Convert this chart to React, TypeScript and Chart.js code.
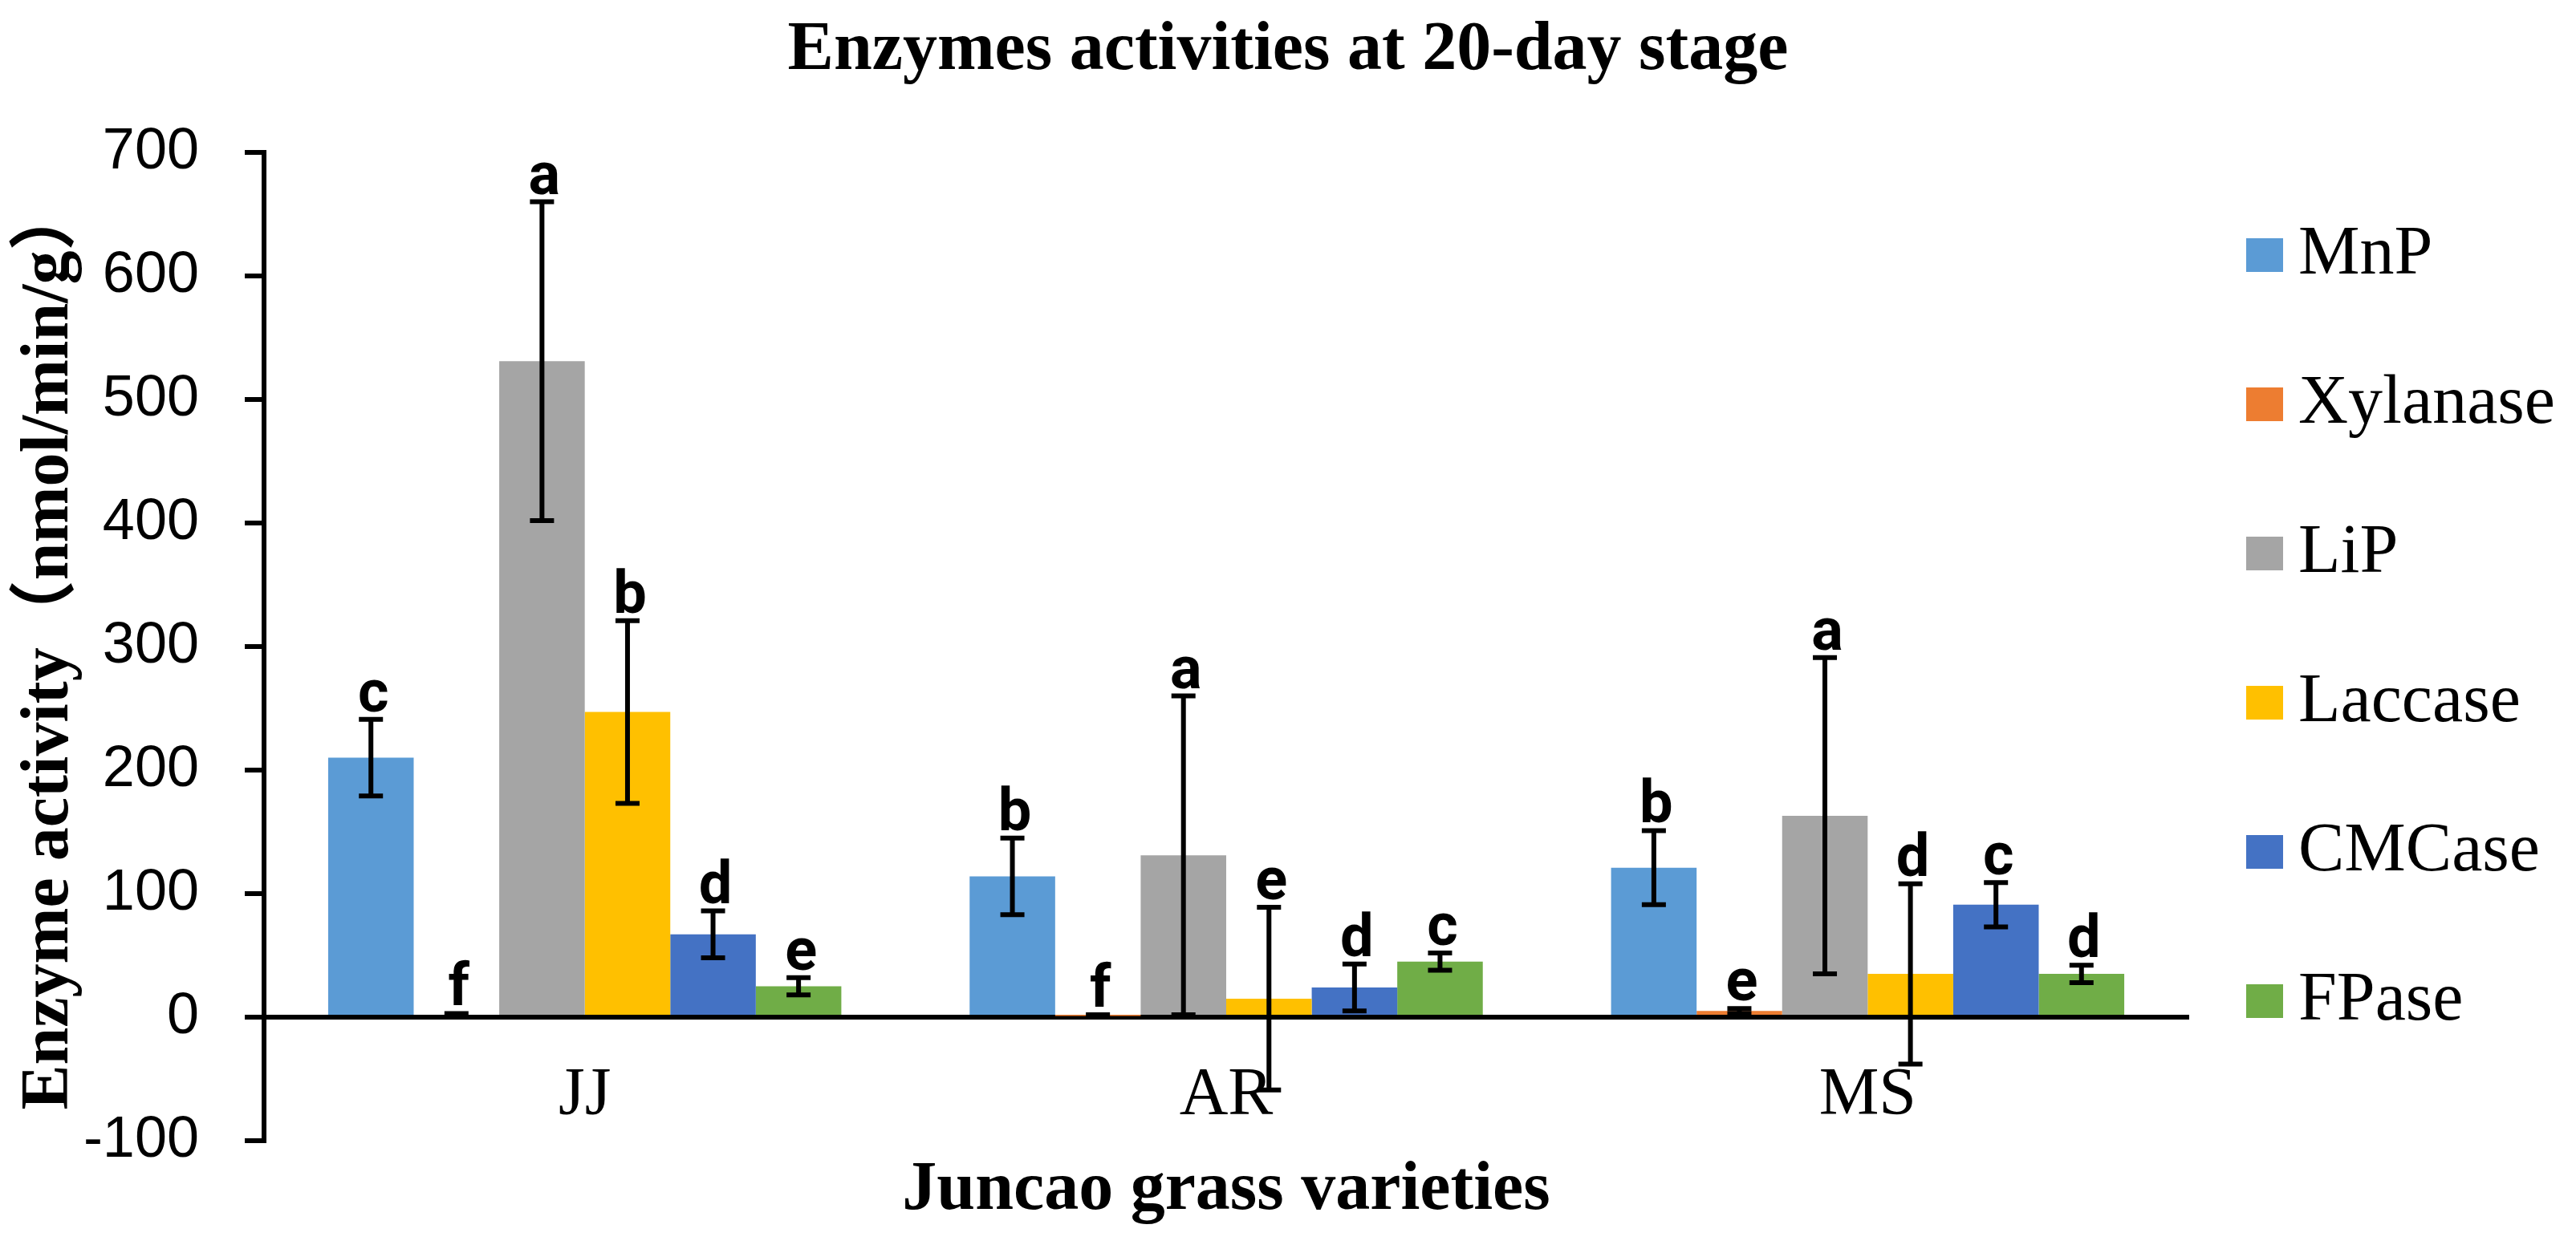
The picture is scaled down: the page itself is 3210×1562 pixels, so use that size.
import React, { useEffect, useRef } from "react";
import { Chart, registerables } from "chart.js";

Chart.register(...registerables);

// ---------- data ----------
const TITLE = "Enzymes activities at 20-day stage";
const X_TITLE = "Juncao grass varieties";
const Y_TITLE = "Enzyme activity（nmol/min/g）";

const varieties = ["JJ", "AR", "MS"];
const enzymes = ["MnP", "Xylanase", "LiP", "Laccase", "CMCase", "FPase"];
const colors = ["#5B9BD5", "#ED7D31", "#A5A5A5", "#FFC000", "#4472C4", "#70AD47"];

const mnp = [210, 114, 121];
const xylanase = [2, 1, 5];
const lip = [531, 131, 163];
const laccase = [247, 15, 35];
const cmcase = [67, 24, 91];
const fpase = [25, 45, 35];

const mnpErr = [31, 31, 30];
const xylanaseErr = [1, 1, 2];
const lipErr = [129, 129, 128];
const laccaseErr = [74, 74, 73];
const cmcaseErr = [19, 19, 18];
const fpaseErr = [7, 7, 7];

const mnpLetters = ["c", "b", "b"];
const xylanaseLetters = ["f", "f", "e"];
const lipLetters = ["a", "a", "a"];
const laccaseLetters = ["b", "e", "d"];
const cmcaseLetters = ["d", "d", "c"];
const fpaseLetters = ["e", "c", "d"];

const yMin = -100;
const yMax = 700;
const yStep = 100;

const seriesValues = [mnp, xylanase, lip, laccase, cmcase, fpase];
const seriesErrors = [mnpErr, xylanaseErr, lipErr, laccaseErr, cmcaseErr, fpaseErr];
const seriesLetters = [mnpLetters, xylanaseLetters, lipLetters, laccaseLetters, cmcaseLetters, fpaseLetters];

const SERIF = "'Liberation Serif', 'Times New Roman', 'Noto Sans CJK SC', serif";
const SANS = "'Liberation Sans', Arial, sans-serif";

const errorBarPlugin = {
  id: "errorBarsAndLetters",
  afterDatasetsDraw(chart: any) {
    const ctx = chart.ctx;
    const yScale = chart.scales.y;
    chart.data.datasets.forEach((ds: any, di: number) => {
      const meta = chart.getDatasetMeta(di);
      meta.data.forEach((bar: any, i: number) => {
        const v = ds.data[i];
        const e = ds.errors[i];
        const top = yScale.getPixelForValue(v + e);
        const bot = yScale.getPixelForValue(v - e);
        ctx.save();
        ctx.strokeStyle = "#000";
        ctx.lineWidth = 6;
        ctx.beginPath();
        ctx.moveTo(bar.x, top);
        ctx.lineTo(bar.x, bot);
        ctx.moveTo(bar.x - 15, top);
        ctx.lineTo(bar.x + 15, top);
        ctx.moveTo(bar.x - 15, bot);
        ctx.lineTo(bar.x + 15, bot);
        ctx.stroke();
        ctx.fillStyle = "#000";
        ctx.font = "bold 74px Roboto, 'Liberation Sans', sans-serif";
        ctx.textAlign = "center";
        ctx.textBaseline = "alphabetic";
        ctx.fillText(ds.letters[i], bar.x + 3, top - 10);
        ctx.restore();
      });
    });
  },
};

const titleAndLegendPlugin = {
  id: "titleAndLegend",
  afterDraw(chart: any) {
    const ctx = chart.ctx;
    ctx.save();
    // chart title, centred on the whole canvas
    ctx.fillStyle = "#000";
    ctx.font = `bold 86px ${SERIF}`;
    ctx.textAlign = "center";
    ctx.textBaseline = "middle";
    ctx.fillText(TITLE, chart.width / 2, 64);
    // legend on the right
    const x0 = chart.chartArea.right + 72;
    chart.data.datasets.forEach((ds: any, i: number) => {
      const cy = 318 + i * 186;
      ctx.fillStyle = ds.backgroundColor;
      ctx.fillRect(x0, cy - 21, 46, 42);
      ctx.fillStyle = "#000";
      ctx.font = `86px ${SERIF}`;
      ctx.textAlign = "left";
      ctx.textBaseline = "middle";
      ctx.fillText(ds.label, x0 + 65, cy);
    });
    ctx.restore();
  },
};

export default function App() {
  const canvasRef = useRef<HTMLCanvasElement | null>(null);

  useEffect(() => {
    const canvas = canvasRef.current;
    if (!canvas) return;
    const chart = new Chart(canvas, {
      type: "bar",
      data: {
        labels: varieties,
        datasets: enzymes.map((name, k) => ({
          label: name,
          data: seriesValues[k],
          errors: seriesErrors[k],
          letters: seriesLetters[k],
          backgroundColor: colors[k],
          borderWidth: 0,
          categoryPercentage: 0.8,
          barPercentage: 1.0,
        })) as any,
      },
      options: {
        responsive: false,
        animation: false,
        devicePixelRatio: 1,
        layout: { padding: { left: 0, right: 483, top: 190, bottom: 140 } },
        plugins: {
          legend: { display: false },
          tooltip: { enabled: false },
          title: { display: false },
        },
        scales: {
          x: {
            type: "category",
            position: { y: 0 } as any,
            offset: true,
            z: 1,
            grid: { display: false, drawTicks: false },
            border: { display: true, color: "#000", width: 6 },
            ticks: {
              color: "#000",
              font: { family: SERIF, size: 84, lineHeight: 1.2 },
              padding: 49,
              maxRotation: 0,
            },
            title: {
              display: true,
              text: X_TITLE,
              color: "#000",
              font: { family: SERIF, size: 86, weight: "bold", lineHeight: 1.2 },
              padding: { top: -34, bottom: 0 },
            },
          },
          y: {
            min: yMin,
            max: yMax,
            ticks: {
              stepSize: yStep,
              color: "#000",
              font: { family: SANS, size: 72 },
              padding: 57,
            },
            grid: {
              drawOnChartArea: false,
              drawTicks: true,
              tickLength: 24,
              color: "#000",
              lineWidth: 6,
            },
            border: { display: true, color: "#000", width: 6 },
            title: {
              display: true,
              text: Y_TITLE,
              color: "#000",
              font: { family: SERIF, size: 84, weight: "bold", lineHeight: 1.2 },
              padding: { top: 12, bottom: 0 },
            },
            afterFit: (scale: any) => {
              scale.width = 329;
            },
          },
        },
      } as any,
      plugins: [errorBarPlugin, titleAndLegendPlugin],
    });
    return () => chart.destroy();
  }, []);

  return (
    <div style={{ position: "fixed", left: 0, top: 0, width: 3210, height: 1562, background: "#fff" }}>
      <canvas ref={canvasRef} width={3210} height={1562} style={{ display: "block" }} />
    </div>
  );
}
